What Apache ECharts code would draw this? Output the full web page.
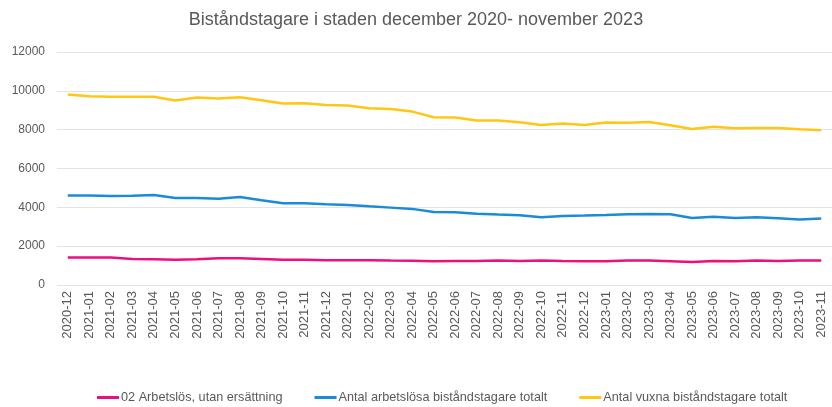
<!DOCTYPE html>
<html>
<head>
<meta charset="utf-8">
<script src="https://cdn.jsdelivr.net/npm/echarts@6/dist/echarts.min.js"></script>
<style>
  html, body { margin: 0; padding: 0; background: #fff; }
  #chart { width: 832px; height: 407px; }
</style>
</head>
<body>
<div id="chart"></div>
<script>
var months = ['2020-12','2021-01','2021-02','2021-03','2021-04','2021-05','2021-06','2021-07','2021-08','2021-09','2021-10','2021-11',
              '2021-12','2022-01','2022-02','2022-03','2022-04','2022-05','2022-06','2022-07','2022-08','2022-09','2022-10','2022-11',
              '2022-12','2023-01','2023-02','2023-03','2023-04','2023-05','2023-06','2023-07','2023-08','2023-09','2023-10','2023-11'];

var arbetslosUtan = [1410, 1410, 1410, 1345, 1330, 1295, 1330, 1380, 1380, 1345, 1295, 1295,
                     1275, 1275, 1275, 1260, 1250, 1225, 1240, 1240, 1260, 1240, 1260, 1240,
                     1225, 1225, 1260, 1260, 1225, 1190, 1240, 1225, 1260, 1240, 1260, 1260];

var arbetslosaTotalt = [4615, 4615, 4580, 4600, 4630, 4480, 4480, 4445, 4530, 4360, 4205, 4205,
                        4155, 4120, 4050, 3985, 3920, 3760, 3745, 3675, 3625, 3590, 3490, 3555,
                        3575, 3605, 3640, 3660, 3640, 3455, 3520, 3455, 3490, 3435, 3370, 3420];

var vuxnaTotalt = [9810, 9720, 9700, 9700, 9700, 9500, 9655, 9600, 9670, 9520, 9345, 9360,
                   9275, 9240, 9100, 9070, 8930, 8640, 8625, 8470, 8470, 8385, 8245, 8315,
                   8245, 8365, 8350, 8400, 8225, 8035, 8155, 8070, 8085, 8085, 8020, 7965];

var yTicks = { min: 0, max: 12000, interval: 2000 };

var textColor = '#595959';
var fontFamily = '"Liberation Sans", Arial, sans-serif';

function lineSeries(name, data, color) {
    return {
        name: name,
        type: 'line',
        data: data,
        symbol: 'none',
        smooth: false,
        lineStyle: { color: color, width: 2.5 },
        itemStyle: { color: color }
    };
}

var chart = echarts.init(document.getElementById('chart'));
chart.setOption({
    backgroundColor: '#fff',
    animation: false,
    textStyle: { fontFamily: fontFamily },
    title: {
        text: 'Biståndstagare i staden december 2020- november 2023',
        left: 'center',
        top: 6,
        textStyle: { color: textColor, fontSize: 18, fontWeight: 'normal', fontFamily: fontFamily }
    },
    legend: {
        top: 386,
        left: 92,
        icon: 'rect',
        itemWidth: 22,
        itemHeight: 3,
        itemGap: 32,
        textStyle: { color: textColor, fontSize: 12.7, padding: [0, 0, 0, -3] },
        data: ['02 Arbetslös, utan ersättning', 'Antal arbetslösa biståndstagare totalt', 'Antal vuxna biståndstagare totalt']
    },
    grid: { left: 57, top: 52, width: 781, height: 233 },
    xAxis: {
        type: 'category',
        data: months,
        boundaryGap: true,
        axisLine: { show: false },
        axisTick: { show: false },
        axisLabel: { rotate: 90, interval: 0, margin: 6, color: textColor, fontSize: 13, fontFamily: fontFamily }
    },
    yAxis: {
        type: 'value',
        min: yTicks.min,
        max: yTicks.max,
        interval: yTicks.interval,
        axisLine: { show: false },
        axisTick: { show: false },
        axisLabel: {
            margin: 12, color: textColor, fontSize: 12, fontFamily: fontFamily,
            formatter: function (v) { return String(v); }
        },
        splitLine: { lineStyle: { color: '#e3e3e3', width: 1 } }
    },
    series: [
        lineSeries('02 Arbetslös, utan ersättning', arbetslosUtan, '#ec0f80'),
        lineSeries('Antal arbetslösa biståndstagare totalt', arbetslosaTotalt, '#1b8bd9'),
        lineSeries('Antal vuxna biståndstagare totalt', vuxnaTotalt, '#ffc614')
    ]
});
</script>
</body>
</html>
